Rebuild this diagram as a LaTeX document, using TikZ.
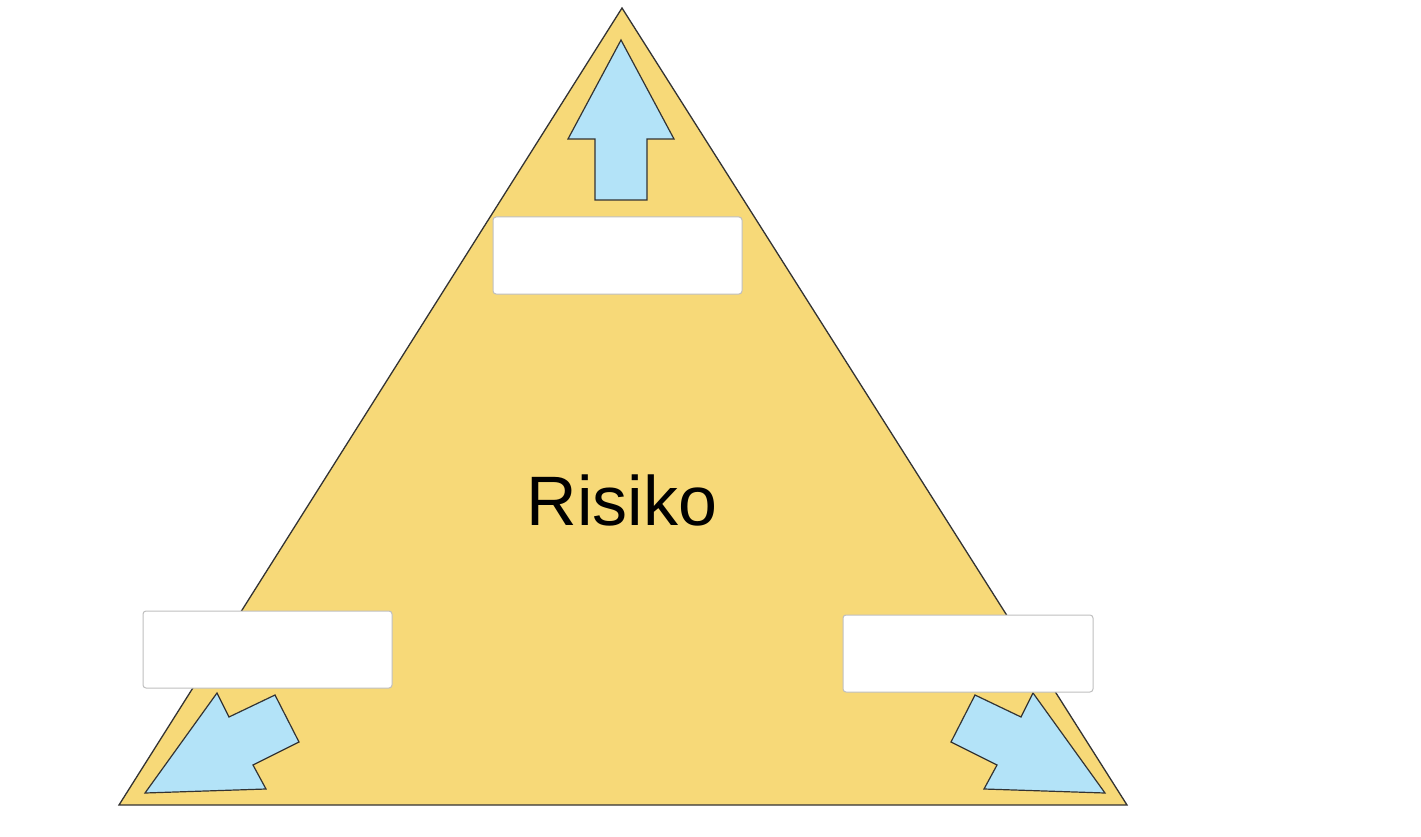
\documentclass[tikz,border=0pt]{standalone}
\usepackage{fontspec}
\setmainfont{Liberation Sans}
\definecolor{tri}{HTML}{F7D978}
\definecolor{arr}{HTML}{B3E3F8}
\begin{document}
\begin{tikzpicture}[x=1pt,y=-1pt,
  arrowshape/.style={draw=black!80,fill=arr,line width=1.2pt,line join=miter},
  blank/.style={draw=black!25,fill=white,rounded corners=3pt,line width=1pt}]
\useasboundingbox (0,0) rectangle (1421,837);
\draw[fill=tri,draw=black!80,line width=1.3pt] (622,8) -- (1127,805) -- (119,805) -- cycle;
\draw[arrowshape] (621,40) -- (674,139) -- (647,139) -- (647,200) -- (595,200) -- (595,139) -- (568,139) -- cycle;
\draw[arrowshape] (145,793) -- (217,693) -- (229,717) -- (275,695) -- (299,742) -- (253,765) -- (266,789) -- cycle;
\draw[arrowshape] (1105,793) -- (1033,693) -- (1021,717) -- (975,695) -- (951,742) -- (997,765) -- (984,789) -- cycle;
\node[blank,minimum width=249pt,minimum height=77pt] (top) at (617.5,255.5) {};
\node[blank,minimum width=249pt,minimum height=77pt] (left) at (267.5,649.5) {};
\node[blank,minimum width=250pt,minimum height=77pt] (right) at (968,653.5) {};
\node[font=\fontsize{70}{80}\selectfont] (risk) at (622,500) {Risiko};
\end{tikzpicture}
\end{document}
